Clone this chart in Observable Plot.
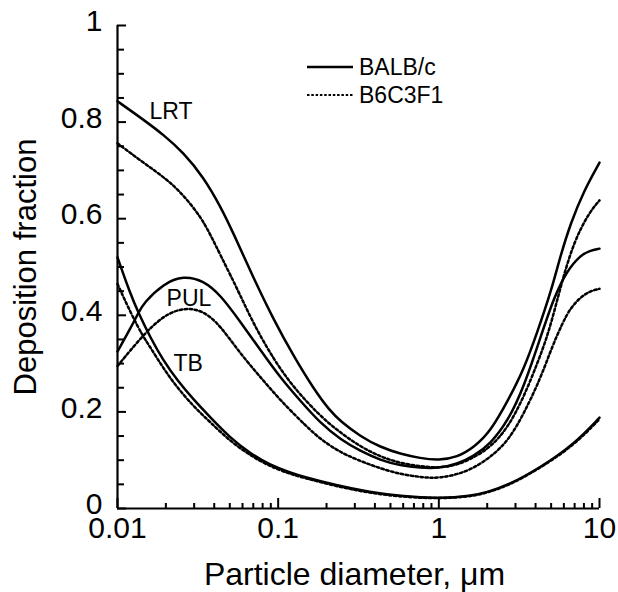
<!DOCTYPE html>
<html><head><meta charset="utf-8">
<script src="https://cdn.jsdelivr.net/npm/d3@7"></script>
<script src="https://cdn.jsdelivr.net/npm/@observablehq/plot@0.6"></script>
<style>
body{margin:0;background:#fff;}
#wrap{position:relative;width:618px;height:592px;font-family:"Liberation Sans",Arial,sans-serif;}
.lg{position:absolute;left:307px;height:28px;display:flex;align-items:center;font-size:23px;color:#000;white-space:nowrap}
.lg svg{margin-right:6px}
</style></head><body><div id="wrap"></div>
<script>
// ---- data (particle diameter µm, deposition fraction) ----
const lrtBalb = [[0.01,0.843],[0.0145,0.805],[0.0193,0.774],[0.0257,0.737],[0.0343,0.686],[0.0438,0.625],[0.052,0.574],[0.07,0.478],[0.094,0.39],[0.125,0.315],[0.166,0.248],[0.21,0.202],[0.244,0.181],[0.325,0.149],[0.433,0.127],[0.576,0.113],[0.767,0.104],[1.0,0.1],[1.3,0.106],[1.66,0.127],[2.1,0.16],[2.7,0.224],[3.4,0.29],[4.1,0.365],[5,0.45],[5.7,0.522],[6.6,0.59],[8,0.658],[10,0.716]];
const lrtB6 = [[0.01,0.756],[0.0145,0.716],[0.0204,0.681],[0.0257,0.649],[0.0328,0.605],[0.038,0.566],[0.0438,0.524],[0.056,0.453],[0.07,0.383],[0.094,0.308],[0.125,0.25],[0.184,0.19],[0.244,0.157],[0.325,0.128],[0.433,0.107],[0.576,0.094],[0.767,0.087],[1.0,0.084],[1.3,0.09],[1.64,0.105],[2.1,0.127],[2.7,0.168],[3.37,0.23],[4.1,0.3],[4.72,0.355],[5.3,0.415],[5.9,0.475],[6.9,0.55],[8.5,0.61],[10,0.638]];
const pulBalb = [[0.01,0.325],[0.012,0.372],[0.0135,0.405],[0.0145,0.425],[0.0194,0.466],[0.0257,0.482],[0.0343,0.472],[0.0438,0.442],[0.058,0.387],[0.078,0.327],[0.103,0.271],[0.138,0.222],[0.184,0.176],[0.244,0.143],[0.325,0.119],[0.433,0.1],[0.576,0.089],[0.767,0.084],[1.0,0.083],[1.3,0.092],[1.64,0.108],[2.1,0.134],[2.7,0.182],[3.37,0.25],[4.3,0.355],[5.2,0.437],[6.3,0.493],[7.6,0.524],[8.7,0.534],[10,0.538]];
const pulB6 = [[0.01,0.295],[0.0143,0.358],[0.0194,0.4],[0.0257,0.416],[0.0343,0.41],[0.0438,0.378],[0.058,0.321],[0.078,0.271],[0.103,0.224],[0.152,0.168],[0.184,0.143],[0.244,0.116],[0.325,0.098],[0.433,0.083],[0.576,0.071],[0.767,0.065],[1.0,0.062],[1.5,0.075],[2.1,0.106],[2.7,0.14],[3.37,0.195],[4.3,0.27],[5,0.33],[5.9,0.385],[6.6,0.415],[7.6,0.437],[8.7,0.45],[10,0.455]];
const tbBalb = [[0.01,0.52],[0.012,0.445],[0.0135,0.405],[0.016,0.354],[0.0193,0.306],[0.0236,0.265],[0.03,0.224],[0.038,0.188],[0.05,0.147],[0.067,0.114],[0.089,0.09],[0.12,0.074],[0.143,0.066],[0.23,0.048],[0.37,0.034],[0.6,0.025],[1.0,0.021],[1.6,0.026],[2.0,0.034],[2.7,0.048],[4.3,0.085],[7,0.134],[10,0.188]];
const tbB6 = [[0.01,0.465],[0.012,0.407],[0.0143,0.358],[0.016,0.334],[0.0193,0.29],[0.0236,0.25],[0.03,0.21],[0.038,0.178],[0.05,0.14],[0.067,0.11],[0.089,0.087],[0.12,0.071],[0.143,0.064],[0.23,0.046],[0.37,0.032],[0.6,0.024],[1.0,0.02],[1.6,0.025],[2.0,0.033],[2.7,0.047],[4.3,0.084],[7,0.132],[10,0.185]];

const strains = ["BALB/c", "B6C3F1"];
const regionNames = ["LRT", "PUL", "TB"];
const labelX = [0.0158, 0.0202, 0.0223];
const labelY = [0.807, 0.42, 0.284];

const xMajor = [0.01, 0.1, 1, 10];
const xMajorLabels = ["0.01", "0.1", "1", "10"];
const decades = [0.01, 0.1, 1];
const multipliers = [2, 3, 4, 5, 6, 7, 8, 9];
const yMajor = [0, 0.2, 0.4, 0.6, 0.8, 1];
const yMajorLabels = ["0", "0.2", "0.4", "0.6", "0.8", "1"];
const yMinor = [0.05, 0.1, 0.15, 0.25, 0.3, 0.35, 0.45, 0.5, 0.55, 0.65, 0.7, 0.75, 0.85, 0.9, 0.95];
const xTitle = "Particle diameter, μm";
const yTitle = "Deposition fraction";

// ---- build tables ----
const seriesList = [
  {region: "LRT", strain: strains[0], pts: lrtBalb},
  {region: "LRT", strain: strains[1], pts: lrtB6},
  {region: "PUL", strain: strains[0], pts: pulBalb},
  {region: "PUL", strain: strains[1], pts: pulB6},
  {region: "TB", strain: strains[0], pts: tbBalb},
  {region: "TB", strain: strains[1], pts: tbB6}
];
const rows = seriesList.flatMap(s => s.pts.map(([x, y]) => ({x, y, strain: s.strain, key: s.region + "|" + s.strain})));
const labels = regionNames.map((t, i) => ({text: t, x: labelX[i], y: labelY[i]}));
const xMinor = decades.flatMap(d => multipliers.map(m => +(d * m).toPrecision(3)));

const font = '"Liberation Sans", Arial, sans-serif';
const chart = Plot.plot({
  width: 618, height: 592,
  marginLeft: 117, marginRight: 19, marginTop: 25, marginBottom: 84,
  style: {fontFamily: font, fontSize: "30px", color: "#000", background: "#fff", overflow: "visible"},
  x: {type: "log", domain: [0.01, 10]},
  y: {domain: [0, 1]},
  marks: [
    Plot.axisY({ticks: yMajor, tickSize: 0, tickPadding: 15, tickFormat: d => yMajorLabels[yMajor.indexOf(d)], fontSize: 30, dy: -4, label: null}),
    Plot.axisY({ticks: yMajor, tickSize: -9, strokeWidth: 2, fill: "none", label: null}),
    Plot.axisY({ticks: yMinor, tickSize: -7, strokeWidth: 2, fill: "none", label: null}),
    Plot.axisX({ticks: xMajor, tickSize: 0, tickPadding: 8, tickFormat: d => xMajorLabels[xMajor.indexOf(d)], fontSize: 30, label: null}),
    Plot.axisX({ticks: xMajor, tickSize: -10, strokeWidth: 2, fill: "none", label: null}),
    Plot.axisX({ticks: xMinor, tickSize: -5, strokeWidth: 2, fill: "none", label: null}),
    Plot.ruleX([0.01], {strokeWidth: 2.2}),
    Plot.ruleY([0], {strokeWidth: 2.2}),
    Plot.line(rows.filter(d => d.strain === strains[0]), {x: "x", y: "y", z: "key", stroke: "#000", strokeWidth: 2.5, curve: "basis"}),
    Plot.line(rows.filter(d => d.strain === strains[1]), {x: "x", y: "y", z: "key", stroke: "#000", strokeWidth: 2.5, strokeDasharray: "2.5,2.5", curve: "basis"}),
    Plot.text(labels, {x: "x", y: "y", text: "text", textAnchor: "start", lineAnchor: "bottom", fontSize: 23}),
    Plot.text([xTitle], {frameAnchor: "bottom", dy: 76, dx: -4, lineAnchor: "bottom", fontSize: 32}),
    Plot.text([yTitle], {frameAnchor: "left", dx: -82, rotate: -90, textAnchor: "middle", lineAnchor: "bottom", fontSize: 31})
  ]
});
const wrap = document.getElementById("wrap");
wrap.appendChild(chart);

// legend (overlaid inside the plot area, top right)
const legendTops = [53, 81];
strains.forEach((s, i) => {
  const row = document.createElement("div");
  row.className = "lg";
  row.style.top = legendTops[i] + "px";
  row.innerHTML = `<svg width="46" height="6"><line x1="0" x2="46" y1="3" y2="3" stroke="#000" stroke-width="${i ? 2 : 2.4}" ${i ? 'stroke-dasharray="2.5,1.8"' : ''}/></svg><span>${s}</span>`;
  wrap.appendChild(row);
});
</script></body></html>
